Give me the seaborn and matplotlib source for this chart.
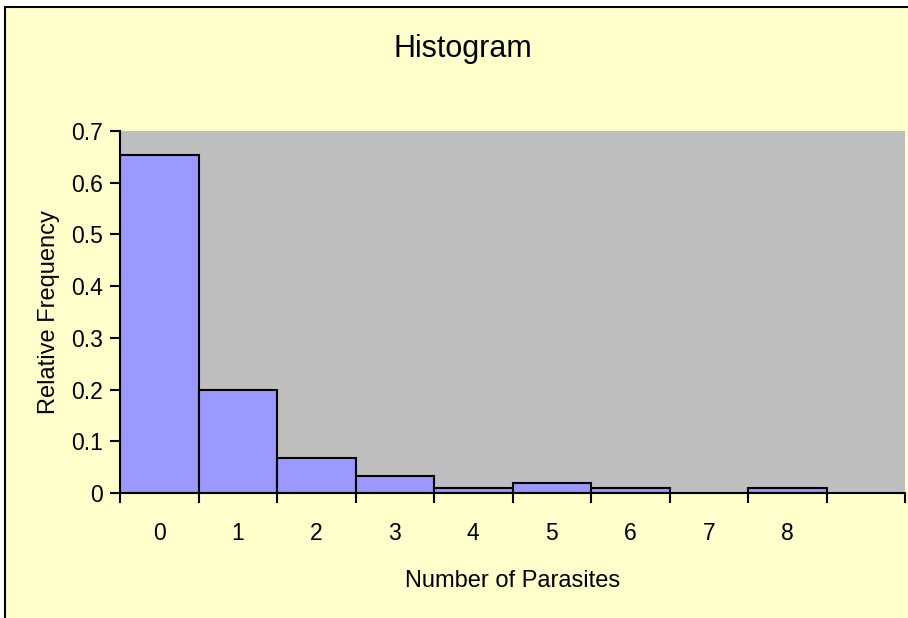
import numpy as np
import pandas as pd
import matplotlib
matplotlib.use("Agg")
import matplotlib.pyplot as plt
from matplotlib.patches import Rectangle
import seaborn as sns

# Данные гистограммы (относительные частоты)
parasites = ["0", "1", "2", "3", "4", "5", "6", "7", "8"]
rel_freq = [0.653, 0.2, 0.067, 0.033, 0.01, 0.02, 0.01, 0.0, 0.01]
y_ticks = [0, 0.1, 0.2, 0.3, 0.4, 0.5, 0.6, 0.7]

df = pd.DataFrame({"Parasites": parasites, "RelFreq": rel_freq})

sns.set_theme(style="white")
plt.rcParams["font.family"] = ["Liberation Sans Narrow", "Liberation Sans", "DejaVu Sans"]
plt.rcParams["text.color"] = "black"
plt.rcParams["axes.labelcolor"] = "black"
plt.rcParams["xtick.color"] = "black"
plt.rcParams["ytick.color"] = "black"

fig = plt.figure(figsize=(9.08, 6.18), dpi=100, facecolor="white")

# жёлтый фон области диаграммы с рамкой
bg = Rectangle((5 / 908, -0.1), 1.2, 1.1 - 7 / 618, transform=fig.transFigure,
               facecolor="#FFFFCC", edgecolor="black", linewidth=1.5, zorder=-10)
fig.patches.append(bg)

ax = fig.add_axes([120 / 908, 1 - 493 / 618, 785 / 908, 362 / 618])
ax.set_facecolor("#BEBEBE")

sns.barplot(data=df, x="Parasites", y="RelFreq", order=parasites, width=1.0,
            color="#9999FF", saturation=1, edgecolor="black", linewidth=1.5, ax=ax)

ax.set_xlim(-0.5, 9.5)
ax.set_ylim(0, 0.7)

# деления по границам столбцов, подписи по центрам
ax.set_xticks(np.arange(-0.5, 10, 1.0))
ax.set_xticklabels([])
ax.set_xticks(np.arange(len(parasites)), minor=True)
ax.set_xticklabels(parasites, minor=True)
ax.tick_params(axis="x", which="major", direction="out", length=7, width=1.5,
               color="black", bottom=True)
ax.tick_params(axis="x", which="minor", length=0, pad=21, labelsize=16.5)

ax.set_yticks(y_ticks)
ax.set_yticklabels(["0", "0.1", "0.2", "0.3", "0.4", "0.5", "0.6", "0.7"])
ax.tick_params(axis="y", direction="out", length=7, width=1.5, color="black",
               left=True, labelsize=16.5, pad=5)

for s in ["top", "right"]:
    ax.spines[s].set_visible(False)
for s in ["left", "bottom"]:
    ax.spines[s].set_color("black")
    ax.spines[s].set_linewidth(1.5)

ax.set_xlabel("Number of Parasites", fontsize=17, labelpad=18)
ax.set_ylabel("Relative Frequency", fontsize=17, labelpad=8)
fig.text(463 / 908, 1 - 49 / 618, "Histogram", ha="center", va="center", fontsize=22)

fig.savefig("out.png", dpi=100, facecolor=fig.get_facecolor())
